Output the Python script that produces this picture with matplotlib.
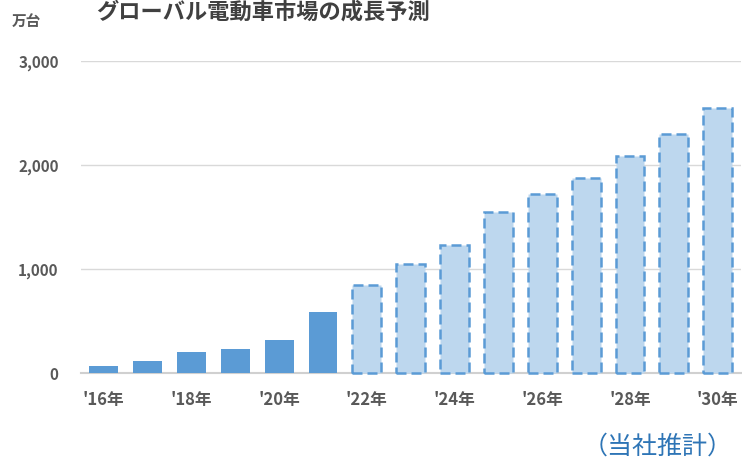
import matplotlib
matplotlib.use("Agg")
import matplotlib.pyplot as plt
import numpy as np

plt.rcParams['font.family'] = ['Noto Sans CJK JP', 'DejaVu Sans']

# data (万台)
years = ["'16", "'17", "'18", "'19", "'20", "'21", "'22", "'23", "'24",
         "'25", "'26", "'27", "'28", "'29", "'30"]
values = [70, 120, 205, 230, 320, 590, 850, 1050, 1235,
          1550, 1725, 1880, 2090, 2300, 2550]
n_actual = 6  # '16-'21 actual, rest forecast
yticks = [0, 1000, 2000, 3000]

text_gray = '#595959'

fig = plt.figure(figsize=(7.42, 4.61), dpi=100)
ax = fig.add_axes([0.109, 0.190, 0.889, 0.677])

x = np.arange(len(years))
ax.bar(x[:n_actual], values[:n_actual], width=0.66, color='#5B9BD5', zorder=3)
ax.bar(x[n_actual:], values[n_actual:], width=0.66, color='#BDD7EE',
       edgecolor='#5B9BD5', linewidth=1.8, linestyle=(0, (4, 2)), zorder=3,
       clip_on=False)

ax.set_xlim(-0.52, len(years) - 0.48)
ax.set_ylim(0, 3000)
ax.set_yticks(yticks)
ax.set_yticklabels([f"{v:,}" for v in yticks], fontsize=11,
                   fontweight='bold', color=text_gray)
ax.set_xticks(x[::2])
ax.set_xticklabels([y + "年" for y in years[::2]], fontsize=12,
                   fontweight='bold', color=text_gray)
ax.tick_params(axis='both', length=0)
ax.tick_params(axis='y', pad=16)
ax.tick_params(axis='x', pad=13)

ax.grid(axis='y', color='#D9D9D9', linewidth=1, zorder=0)
for s in ['top', 'right', 'left']:
    ax.spines[s].set_visible(False)
ax.spines['bottom'].set_color('#D0D0D0')
ax.spines['bottom'].set_linewidth(1.5)

fig.text(0.355, 0.998, "グローバル電動車市場の成長予測", fontsize=16,
         fontweight='bold', color='#404040', ha='center', va='top')
fig.text(0.036, 0.955, "万台", fontsize=10.5, fontweight='bold',
         color=text_gray, ha='center', va='center')
fig.text(0.886, 0.032, "（当社推計）", fontsize=18, color='#2E75B6',
         ha='center', va='center')

fig.savefig("out.png", dpi=100)
